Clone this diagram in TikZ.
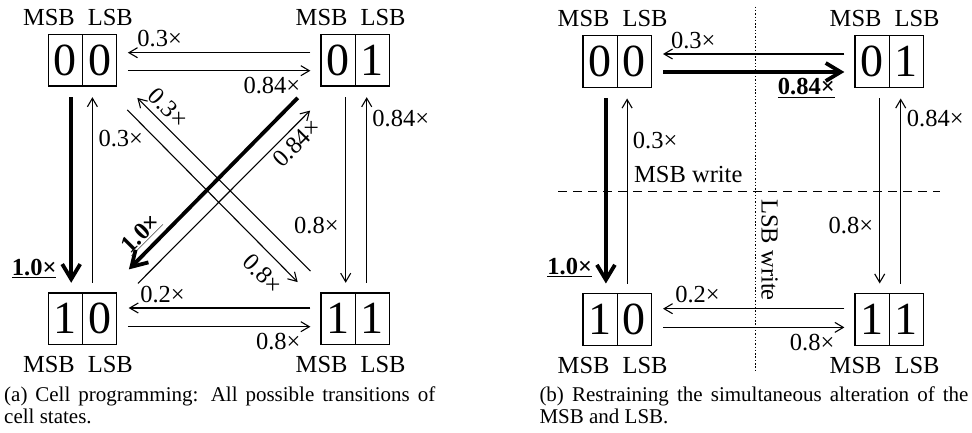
\documentclass[tikz,border=0pt]{standalone}
\usepackage{fontspec}
\setmainfont{Liberation Serif}
\usetikzlibrary{arrows.meta}
\newcommand\celldigits[2]{\raisebox{-1.8pt}{\makebox[34.2pt]{#1}\makebox[34.2pt]{#2}}}
\begin{document}
\begin{tikzpicture}[x=1pt,y=1pt,
  cell/.style={draw, line width=1.2pt, minimum width=68.4pt, minimum height=51.8pt, inner sep=0pt,
    font=\fontsize{46}{46}\selectfont,
    path picture={\draw[line width=1.2pt] (path picture bounding box.north) -- (path picture bounding box.south);}},
  lbl/.style={inner sep=0pt, font=\fontsize{24.5}{26}\selectfont},
  captxt/.style={inner sep=0pt, text width=431pt, align=justify, font=\fontsize{21}{21.6}\selectfont},
  thinarr/.style={line width=1.1pt, -{Straight Barb[length=8.5pt,width=10pt]}},
  thickarr/.style={line width=3.8pt, -{Straight Barb[length=15pt,width=18pt]}},
  sepdash/.style={line width=1.4pt, dash pattern=on 9pt off 6pt},
  sepdot/.style={line width=1.6pt, dash pattern=on 1.4pt off 1.9pt}
]
\useasboundingbox (0,0) rectangle (972,432);

% ---------------- panel (a) ----------------
\node[cell] (a00) at (82.5,371.8) {\celldigits{0}{0}};
\node[cell] (a01) at (355.2,371.8) {\celldigits{0}{1}};
\node[cell] (a10) at (82.5,113.2) {\celldigits{1}{0}};
\node[cell] (a11) at (355.2,113.2) {\celldigits{1}{1}};

\foreach \c in {a00,a01}{
  \node[lbl, anchor=base] (\c m) at ([xshift=-33.6pt,yshift=8.3pt]\c.north) {MSB};
  \node[lbl, anchor=base] (\c l) at ([xshift=27.8pt,yshift=8.3pt]\c.north) {LSB};
}
\foreach \c in {a10,a11}{
  \node[lbl, anchor=base] (\c m) at ([xshift=-33.6pt,yshift=-27pt]\c.south) {MSB};
  \node[lbl, anchor=base] (\c l) at ([xshift=27.8pt,yshift=-27pt]\c.south) {LSB};
}

% horizontal
\draw[thinarr] ([xshift=-10pt,yshift=7.5pt]a01.west) -- ([xshift=10.6pt,yshift=7.5pt]a00.east);
\draw[thinarr] ([xshift=10.6pt,yshift=-10.5pt]a00.east) -- ([xshift=-10pt,yshift=-10.5pt]a01.west);
\draw[thinarr] ([xshift=-10pt,yshift=10.8pt]a11.west) -- ([xshift=11.4pt,yshift=10.8pt]a10.east);
\draw[thinarr] ([xshift=10.6pt,yshift=-7.9pt]a10.east) -- ([xshift=-10pt,yshift=-7.9pt]a11.west);
% vertical
\draw[thickarr] ([xshift=-11.3pt,yshift=-10.5pt]a00.south) -- ([xshift=-11.3pt,yshift=9.5pt]a10.north);
\draw[thinarr] ([xshift=9.9pt,yshift=9.5pt]a10.north) -- ([xshift=9.9pt,yshift=-10.5pt]a00.south);
\draw[thinarr] ([xshift=-9.5pt,yshift=-10.5pt]a01.south) -- ([xshift=-9.5pt,yshift=9.5pt]a11.north);
\draw[thinarr] ([xshift=11.5pt,yshift=9.5pt]a11.north) -- ([xshift=11.5pt,yshift=-10.5pt]a01.south);
% diagonals
\draw[thinarr] ([xshift=-10pt,yshift=21.2pt]a11.north west) -- ([xshift=20pt,yshift=-11.2pt]a00.south east);
\draw[thinarr] ([xshift=10pt,yshift=-23.2pt]a00.south east) -- ([xshift=-22.7pt,yshift=10.2pt]a11.north west);
\draw[thickarr] ([xshift=-22.7pt,yshift=-11.2pt]a01.south west) -- ([xshift=11.6pt,yshift=22.9pt]a10.north east);
\draw[thinarr] ([xshift=20.6pt,yshift=8.9pt]a10.north east) -- ([xshift=-10.3pt,yshift=-23.9pt]a01.south west);

% labels (a)
\node[lbl, anchor=base] (la1) at (159.7,385.3) {0.3×};
\node[lbl, anchor=base] (la2) at (271.9,338) {0.84×};
\node[lbl, anchor=base west] (la3) at (98.3,285.3) {0.3×};
\node[lbl, anchor=base] (la4) at (34.2,157) {\textbf{\underline{1.0×}}};
\node[lbl, anchor=base west] (la5) at (372.2,305.3) {0.84×};
\node[lbl, anchor=base east] (la6) at (338.8,198.7) {0.8×};
\node[lbl, anchor=base] (la7) at (162.5,129.3) {0.2×};
\node[lbl, anchor=base] (la8) at (278.3,83) {0.8×};
\node[lbl, rotate=-45] (la9) at (168,324) {0.3×};
\node[lbl, rotate=-45] (la10) at (262.5,158) {0.8×};
\node[lbl, rotate=45] (la11) at (296.7,289) {0.84×};
\node[lbl, rotate=45] (la12) at (141,198) {\textbf{\underline{1.0×}}};

\node[captxt, anchor=base west] (capa) at (4,30.3) {(a) Cell programming: All possible transitions of\linebreak cell states.};

% ---------------- panel (b) ----------------
\coordinate (dashL) at (558.3,240.8);
\coordinate (dashR) at (940,240.8);
\coordinate (dotT) at (755.3,425.3);
\coordinate (dotB) at (755.3,60.3);
\draw[sepdash] (dashL) -- (dashR);
\draw[sepdot] (dotT) -- (dotB);

\node[cell] (b00) at (617.2,370.5) {\celldigits{0}{0}};
\node[cell] (b01) at (889.2,370.5) {\celldigits{0}{1}};
\node[cell] (b10) at (617.2,112.5) {\celldigits{1}{0}};
\node[cell] (b11) at (889.2,112.5) {\celldigits{1}{1}};

\foreach \c in {b00,b01}{
  \node[lbl, anchor=base] (\c m) at ([xshift=-33.6pt,yshift=8.3pt]\c.north) {MSB};
  \node[lbl, anchor=base] (\c l) at ([xshift=27.8pt,yshift=8.3pt]\c.north) {LSB};
}
\foreach \c in {b10,b11}{
  \node[lbl, anchor=base] (\c m) at ([xshift=-33.6pt,yshift=-27pt]\c.south) {MSB};
  \node[lbl, anchor=base] (\c l) at ([xshift=27.8pt,yshift=-27pt]\c.south) {LSB};
}

\draw[thinarr] ([xshift=-10pt,yshift=7.5pt]b01.west) -- ([xshift=11pt,yshift=7.5pt]b00.east);
\draw[thickarr] ([xshift=11pt,yshift=-10.5pt]b00.east) -- ([xshift=-10pt,yshift=-10.5pt]b01.west);
\draw[thinarr] ([xshift=-10pt,yshift=10.8pt]b11.west) -- ([xshift=11pt,yshift=10.8pt]b10.east);
\draw[thinarr] ([xshift=11pt,yshift=-7.9pt]b10.east) -- ([xshift=-10pt,yshift=-7.9pt]b11.west);
\draw[thickarr] ([xshift=-11.3pt,yshift=-10.5pt]b00.south) -- ([xshift=-11.3pt,yshift=9.5pt]b10.north);
\draw[thinarr] ([xshift=9.9pt,yshift=9.5pt]b10.north) -- ([xshift=9.9pt,yshift=-10.5pt]b00.south);
\draw[thinarr] ([xshift=-9.5pt,yshift=-10.5pt]b01.south) -- ([xshift=-9.5pt,yshift=9.5pt]b11.north);
\draw[thinarr] ([xshift=11.5pt,yshift=9.5pt]b11.north) -- ([xshift=11.5pt,yshift=-10.5pt]b01.south);

\node[lbl, anchor=base] (lb1) at (693.3,383.7) {0.3×};
\node[lbl, anchor=base] (lb2) at (806.3,337) {\textbf{\underline{0.84×}}};
\node[lbl, anchor=base west] (lb3) at (632.7,283.7) {0.3×};
\node[lbl, anchor=base west] (lb4) at (634,249.3) {MSB write};
\node[lbl, anchor=base] (lb5) at (569.7,158) {\textbf{\underline{1.0×}}};
\node[lbl, anchor=base west] (lb6) at (906.7,305.3) {0.84×};
\node[lbl, anchor=base east] (lb7) at (873.3,198.7) {0.8×};
\node[lbl, anchor=base] (lb8) at (697.5,129.3) {0.2×};
\node[lbl, anchor=base] (lb9) at (812.2,82) {0.8×};
\node[lbl, rotate=-90] (lb10) at (769.5,182) {LSB write};

\node[captxt, anchor=base west, text width=429pt] (capb) at (539.3,30.3) {(b) Restraining the simultaneous alteration of the\linebreak MSB and LSB.};
\end{tikzpicture}
\end{document}
